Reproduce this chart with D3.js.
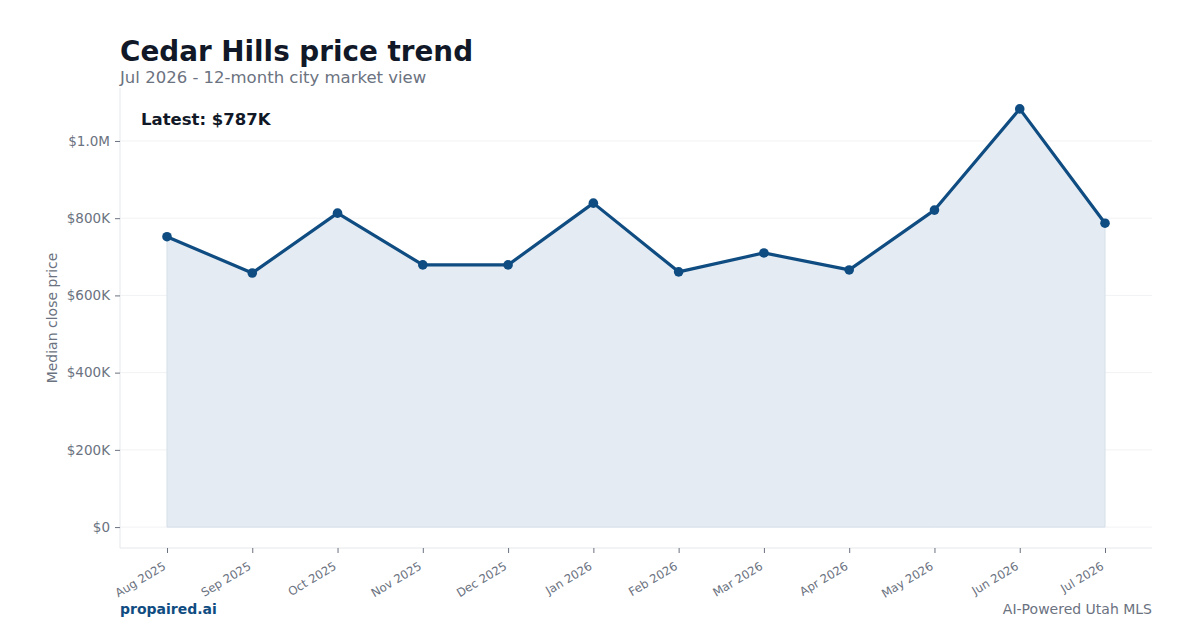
<!DOCTYPE html>
<html><head><meta charset="utf-8">
<script src="https://cdn.jsdelivr.net/npm/d3@7"></script>
<style>body{margin:0;background:#fff;font-family:"DejaVu Sans",sans-serif;}</style>
</head><body><svg id="c" width="1200" height="630"></svg>
<script>
const months = ["Aug 2025","Sep 2025","Oct 2025","Nov 2025","Dec 2025","Jan 2026","Feb 2026","Mar 2026","Apr 2026","May 2026","Jun 2026","Jul 2026"];
const prices = [752000,658000,813000,679000,679000,839000,661000,710000,666000,821000,1083000,787000];
const yTicks = [0,200000,400000,600000,800000,1000000];
const yTickLabels = ["$0","$200K","$400K","$600K","$800K","$1.0M"];

const svg = d3.select("#c");
const L=120,R=1152,T=88,B=548;
const maxV = d3.max(prices);
const x = d3.scalePoint().domain(months).range([L,R]).padding(0.551);
const y = d3.scaleLinear().domain([-0.05*maxV,1.05*maxV]).range([B,T]);

// grid
svg.append("g").selectAll("line").data(yTicks).join("line")
  .attr("x1",L).attr("x2",R).attr("y1",d=>y(d)).attr("y2",d=>y(d))
  .attr("stroke","#f1f2f4").attr("stroke-width",1);

// area
svg.append("path").datum(prices)
  .attr("d",d3.area().x((d,i)=>x(months[i])).y0(y(0)).y1(d=>y(d)))
  .attr("fill","#e5ebf2").attr("stroke","#d4dee9").attr("stroke-width",1);

// axes
const yAxis = svg.append("g").attr("transform",`translate(${L},0)`)
  .call(d3.axisLeft(y).tickValues(yTicks).tickFormat((d,i)=>yTickLabels[i]).tickSize(5).tickPadding(5));
yAxis.select(".domain").attr("d",`M0,${T}V${B}`).attr("stroke","#e5e7eb");
yAxis.selectAll(".tick line").attr("stroke","#6b7280");
yAxis.selectAll("text").attr("fill","#6b7280").style("font-size","13.5px").style("font-family","DejaVu Sans");

const xAxis = svg.append("g").attr("transform",`translate(0,${B})`)
  .call(d3.axisBottom(x).tickSize(5).tickPadding(4));
xAxis.select(".domain").attr("d",`M${L},0H${R}`).attr("stroke","#e5e7eb");
xAxis.selectAll(".tick line").attr("stroke","#6b7280");
xAxis.selectAll("text").attr("fill","#6b7280").style("font-size","11.7px").style("font-family","DejaVu Sans")
  .attr("x",0).attr("y",0)
  .attr("text-anchor","end").attr("dy","0.35em").attr("transform","translate(-3,17) rotate(-31)");

// line
svg.append("path").datum(prices)
  .attr("d",d3.line().x((d,i)=>x(months[i])).y(d=>y(d)))
  .attr("fill","none").attr("stroke","#0f4c81").attr("stroke-width",3.2).attr("stroke-linejoin","round");
svg.append("g").selectAll("circle").data(prices).join("circle")
  .attr("cx",(d,i)=>x(months[i])).attr("cy",d=>y(d)).attr("r",4.8).attr("fill","#0f4c81");

// texts
svg.append("text").attr("x",120).attr("y",61).text("Cedar Hills price trend")
  .attr("fill","#111827").style("font-size","27.8px").style("font-weight","bold");
svg.append("text").attr("x",120).attr("y",83).text("Jul 2026 - 12-month city market view")
  .attr("fill","#6b7280").style("font-size","16.5px");
svg.append("text").attr("x",141).attr("y",125).text("Latest: $787K")
  .attr("fill","#111827").style("font-size","16.5px").style("font-weight","bold");
svg.append("text").attr("transform",`translate(57,${(T+B)/2}) rotate(-90)`).attr("text-anchor","middle")
  .text("Median close price").attr("fill","#6b7280").style("font-size","14px");
svg.append("text").attr("x",120).attr("y",614).text("propaired.ai")
  .attr("fill","#0f4c81").style("font-size","14px").style("font-weight","bold");
svg.append("text").attr("x",1152).attr("y",614).attr("text-anchor","end").text("AI-Powered Utah MLS")
  .attr("fill","#6b7280").style("font-size","14px");
</script></body></html>
